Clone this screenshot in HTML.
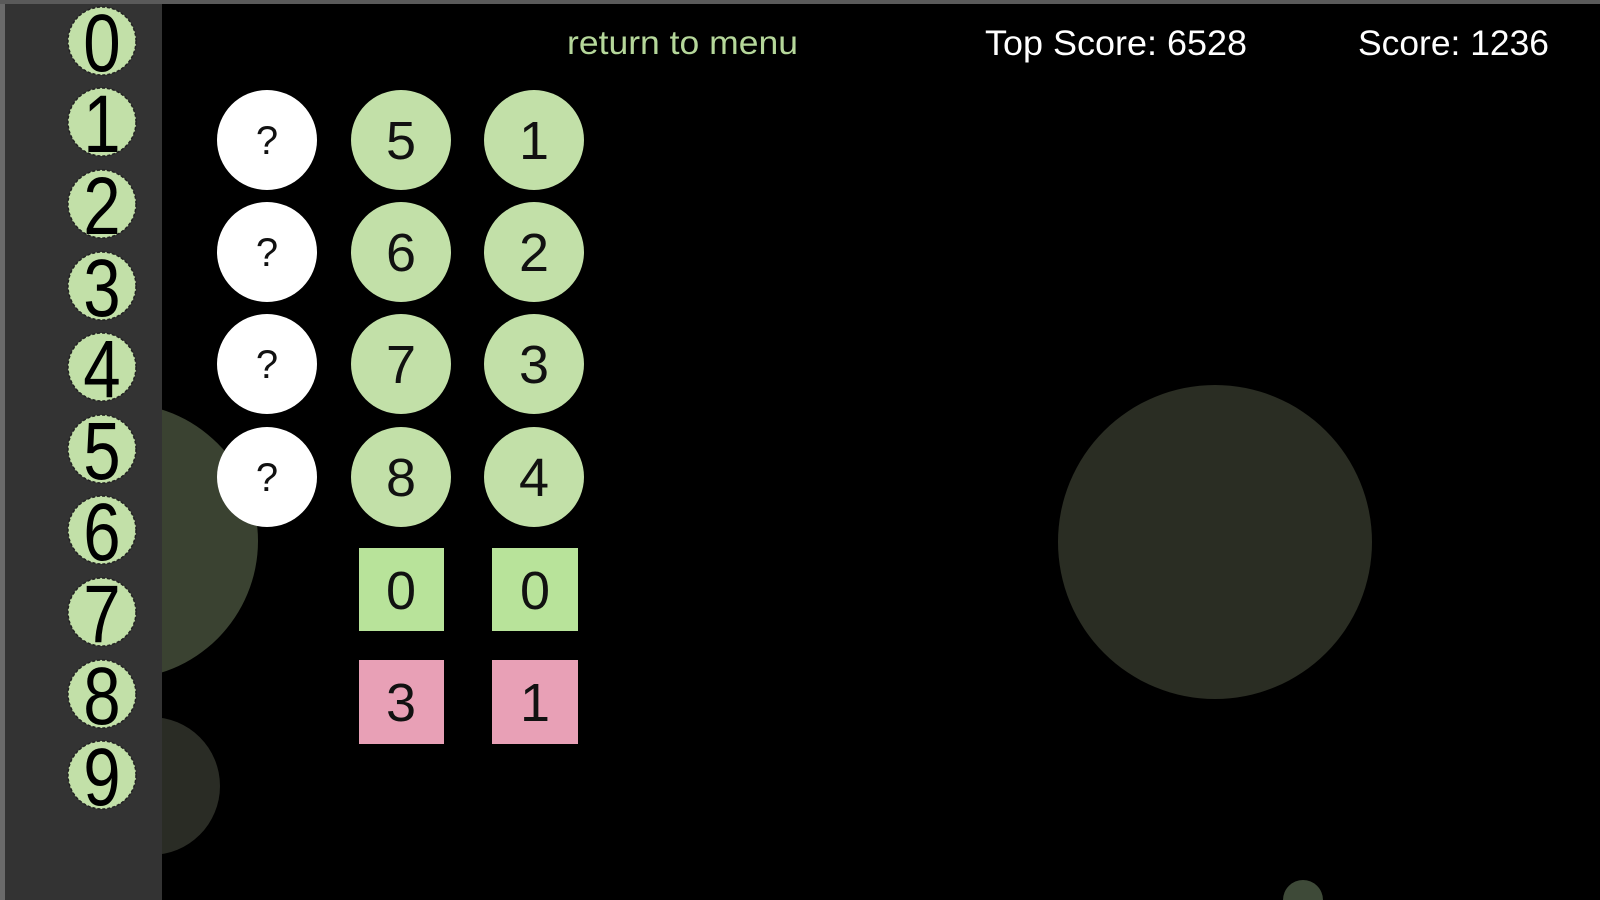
<!DOCTYPE html>
<html><head><meta charset="utf-8"><style>
html,body{margin:0;padding:0;background:#000;width:1600px;height:900px;overflow:hidden}
svg{display:block}
text{font-family:"Liberation Sans",sans-serif}
</style></head><body>
<svg width="1600" height="900" viewBox="0 0 1600 900" xmlns="http://www.w3.org/2000/svg">
<rect width="1600" height="900" fill="#000"/>
<rect x="0" y="0" width="1600" height="4" fill="#5a5a5a"/>
<!-- background circles -->
<circle cx="1215" cy="542" r="157" fill="#2a2d23"/>
<circle cx="120" cy="541" r="138" fill="#3a4231"/>
<circle cx="151" cy="786" r="69" fill="#2a2c25"/>
<circle cx="1303" cy="900" r="20" fill="#3e4a38"/>
<!-- sidebar -->
<rect x="0" y="4" width="5" height="896" fill="#6a6a6a"/>
<rect x="5" y="4" width="157" height="896" rx="0" fill="#333"/>
<g fill="#c2e0a8" stroke="#222" stroke-width="1.5" stroke-dasharray="3 2">
<circle cx="102" cy="41" r="34"/>
<circle cx="102" cy="122" r="34"/>
<circle cx="102" cy="204" r="34"/>
<circle cx="102" cy="286" r="34"/>
<circle cx="102" cy="367" r="34"/>
<circle cx="102" cy="449" r="34"/>
<circle cx="102" cy="530" r="34"/>
<circle cx="102" cy="612" r="34"/>
<circle cx="102" cy="694" r="34"/>
<circle cx="102" cy="775" r="34"/>
</g>
<g fill="#000" font-size="82" text-anchor="middle">
<text transform="translate(102,71) scale(0.82,1)">0</text>
<text transform="translate(102,152) scale(0.82,1)">1</text>
<text transform="translate(102,234) scale(0.82,1)">2</text>
<text transform="translate(102,316) scale(0.82,1)">3</text>
<text transform="translate(102,397) scale(0.82,1)">4</text>
<text transform="translate(102,479) scale(0.82,1)">5</text>
<text transform="translate(102,560) scale(0.82,1)">6</text>
<text transform="translate(102,642) scale(0.82,1)">7</text>
<text transform="translate(102,724) scale(0.82,1)">8</text>
<text transform="translate(102,805) scale(0.82,1)">9</text>
</g>
<!-- header -->
<text x="567" y="54" font-size="33" fill="#b5d79a" textLength="231" lengthAdjust="spacingAndGlyphs">return to menu</text>
<text x="985" y="55" font-size="35" fill="#fff" textLength="262" lengthAdjust="spacingAndGlyphs">Top Score: 6528</text>
<text x="1358" y="55" font-size="35" fill="#fff" textLength="191" lengthAdjust="spacingAndGlyphs">Score: 1236</text>
<!-- main circles -->
<g fill="#fff"><circle cx="267" cy="140" r="50"/><circle cx="267" cy="252" r="50"/><circle cx="267" cy="364" r="50"/><circle cx="267" cy="477" r="50"/></g>
<g fill="#c2e0a8"><circle cx="401" cy="140" r="50"/><circle cx="401" cy="252" r="50"/><circle cx="401" cy="364" r="50"/><circle cx="401" cy="477" r="50"/>
<circle cx="534" cy="140" r="50"/><circle cx="534" cy="252" r="50"/><circle cx="534" cy="364" r="50"/><circle cx="534" cy="477" r="50"/></g>
<rect x="359" y="548" width="85" height="83" fill="#b8e39a"/>
<rect x="492" y="548" width="86" height="83" fill="#b8e39a"/>
<rect x="359" y="660" width="85" height="84" fill="#e8a0b6"/>
<rect x="492" y="660" width="86" height="84" fill="#e8a0b6"/>
<g font-size="40" fill="#111" text-anchor="middle">
<text x="267" y="154">?</text><text x="267" y="266">?</text><text x="267" y="378">?</text><text x="267" y="491">?</text>
</g>
<g font-size="54" fill="#111" text-anchor="middle">
<text x="401" y="159">5</text><text x="401" y="271">6</text><text x="401" y="383">7</text><text x="401" y="496">8</text>
<text x="534" y="159">1</text><text x="534" y="271">2</text><text x="534" y="383">3</text><text x="534" y="496">4</text>
<text x="401" y="609">0</text><text x="535" y="609">0</text>
<text x="401" y="721">3</text><text x="535" y="721">1</text>
</g>
</svg>
</body></html>
